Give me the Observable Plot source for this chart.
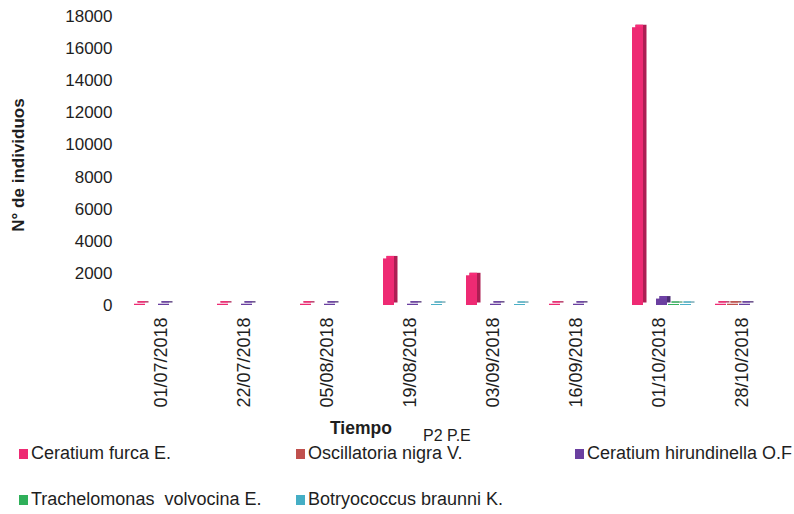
<!DOCTYPE html>
<html><head><meta charset="utf-8">
<script src="https://cdn.jsdelivr.net/npm/d3@7"></script>
<script src="https://cdn.jsdelivr.net/npm/@observablehq/plot@0.6"></script>
<style>
body{margin:0;background:#fff;font-family:"Liberation Sans",Arial,sans-serif;}
#wrap{position:relative;width:794px;height:514px;overflow:hidden;background:#fff}
#chart{position:absolute;left:0;top:0}
.t{position:absolute;white-space:pre;color:#1e1e1e;line-height:1}
.sw{position:absolute;width:9px;height:10px}
</style></head><body>
<div id="wrap"><div id="chart"></div></div>
<script>
// ---- data ----
const dates = ["01/07/2018","22/07/2018","05/08/2018","19/08/2018","03/09/2018","16/09/2018","01/10/2018","28/10/2018"];
const species = ["Ceratium furca E.","Oscillatoria nigra V.","Ceratium hirundinella O.F","Trachelomonas  volvocina E.","Botryococcus braunni K."];
const ceratiumFurca        = [80, 80, 80, 2900, 1850, 80, 17300, 80];
const oscillatoriaNigra    = [null, null, null, null, null, null, null, 80];
const ceratiumHirundinella = [80, 80, 80, 80, 80, 80, 400, 80];
const trachelomonas        = [null, null, null, null, null, null, 60, null];
const botryococcus         = [null, null, null, 60, 60, null, 60, null];
const yTicks = [0,2000,4000,6000,8000,10000,12000,14000,16000,18000];
const colors = ["#ee2a73","#c0504d","#6a3fa0","#2fb05a","#45aec5"];

// ---- build table ----
const seriesValues = [ceratiumFurca, oscillatoriaNigra, ceratiumHirundinella, trachelomonas, botryococcus];
const rows = [];
species.forEach((s, i) => {
  seriesValues[i].forEach((v, j) => {
    if (v != null) rows.push({date: dates[j], species: s, value: v});
  });
});
const colorOf = Object.fromEntries(species.map((s, i) => [s, colors[i]]));
const darkOf = Object.fromEntries(species.map((s, i) => [s, d3.color(colors[i]).darker(0.9).formatHex()]));
const lightOf = Object.fromEntries(species.map((s, i) => [s, d3.color(colors[i]).brighter(0.12).formatHex()]));

const shift = 3;
const common = {fx: "date", x: "species", y: "value", dx: shift};
const chart = Plot.plot({
  width: 794,
  height: 420,
  marginTop: 16,
  marginBottom: 115,
  marginLeft: 116,
  marginRight: 8,
  style: {fontFamily: "'Liberation Sans', Arial, sans-serif", color: "#1e1e1e", background: "transparent"},
  fx: {domain: dates, paddingInner: 0.217, paddingOuter: 0.1085, label: null},
  x: {domain: species, padding: 0.05, axis: null},
  y: {domain: [0, 18000], axis: null},
  color: {type: "identity"},
  marks: [
    // side face (dark)
    Plot.barY(rows, {...common, fill: d => darkOf[d.species], dx: shift + 3.5, dy: -2.5}),
    // top face (light)
    Plot.barY(rows, {...common, fill: d => lightOf[d.species], dx: shift + 3.5, dy: -2.5, insetRight: 3.5}),
    // front face
    Plot.barY(rows, {...common, fill: d => colorOf[d.species]}),
    Plot.axisY({ticks: yTicks, tickFormat: d => String(d), tickSize: 0, tickPadding: 16, fontSize: 17, label: null}),
    Plot.axisFx({anchor: "bottom", tickRotate: -90, tickSize: 0, tickPadding: 12, fontSize: 18, label: null})
  ]
});
document.getElementById("chart").appendChild(chart);

// ---- titles and legend (HTML) ----
const wrap = document.getElementById("wrap");
function addText(txt, x, yc, size, bold) {
  const d = document.createElement("div");
  d.className = "t";
  d.textContent = txt;
  d.style.fontSize = size + "px";
  d.style.left = x + "px";
  d.style.top = (yc - size * 0.55) + "px";
  if (bold) d.style.fontWeight = "bold";
  wrap.appendChild(d);
  return d;
}
const yt = document.createElement("div");
yt.className = "t";
yt.textContent = "N° de individuos";
Object.assign(yt.style, {fontSize: "17px", fontWeight: "bold", left: "18px", top: "165px",
  transform: "translate(-50%,-50%) rotate(-90deg)"});
wrap.appendChild(yt);
addText("Tiempo", 330, 430, 17.5, true);
addText("P2 P.E", 423, 437, 16, false);

const legendPos = [[19, 454], [296, 454], [575, 454], [19, 500], [296, 500]];
species.forEach((s, i) => {
  const [x, yc] = legendPos[i];
  const sw = document.createElement("div");
  sw.className = "sw";
  sw.style.left = x + "px";
  sw.style.top = (yc - 5) + "px";
  sw.style.background = colors[i];
  wrap.appendChild(sw);
  addText(s, x + 12, yc, 18, false);
});
</script>
</body></html>
